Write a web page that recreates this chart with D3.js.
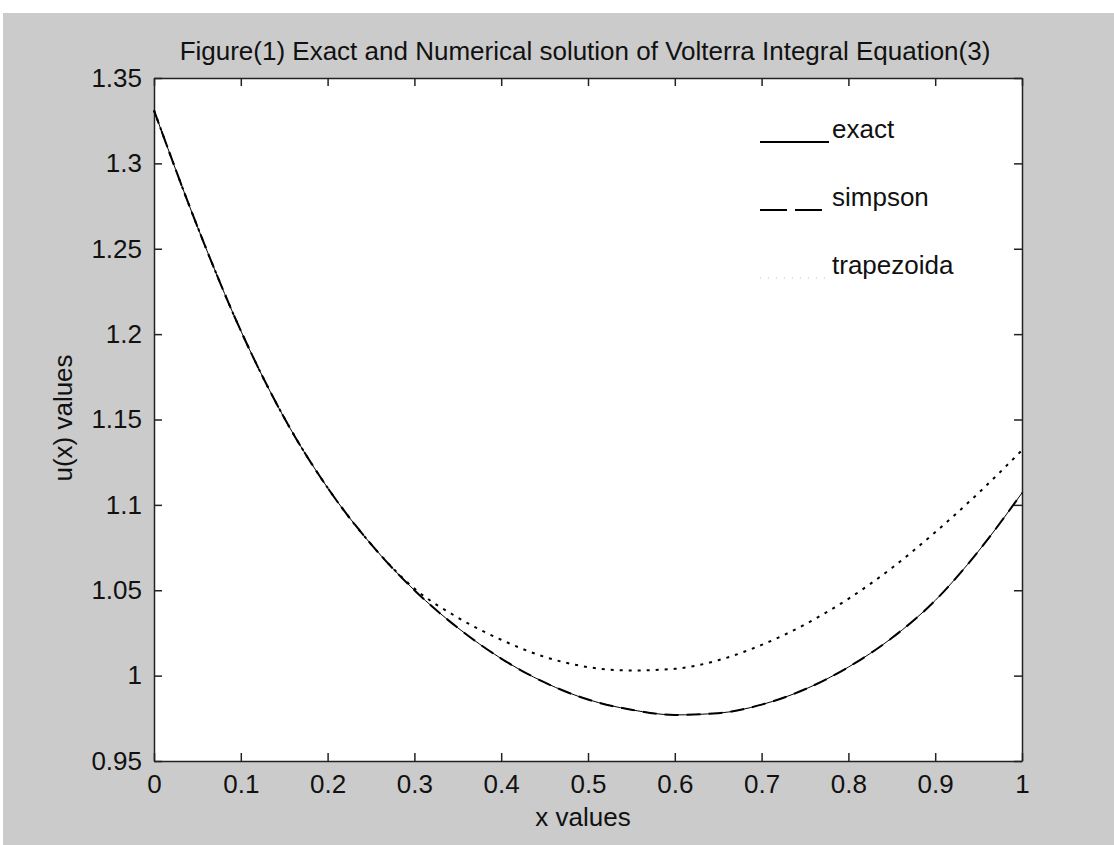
<!DOCTYPE html>
<html>
<head>
<meta charset="utf-8">
<script src="https://cdn.jsdelivr.net/npm/d3@7"></script>
<style>
  body { margin: 0; background: #fff; }
  text { font-family: "Liberation Sans", Arial, sans-serif; fill: #111; }
</style>
</head>
<body>
<div id="plot"></div>
<script>
// values
var xValues = [0, 0.05, 0.1, 0.15, 0.2, 0.25, 0.3, 0.35, 0.4, 0.45, 0.5,
               0.55, 0.6, 0.65, 0.7, 0.75, 0.8, 0.85, 0.9, 0.95, 1];
var exactValues = [1.331, 1.263, 1.202, 1.151, 1.110, 1.077, 1.050, 1.028, 1.010, 0.996, 0.986,
                   0.980, 0.977, 0.978, 0.983, 0.992, 1.005, 1.022, 1.044, 1.073, 1.107];
var simpsonValues = [1.331, 1.263, 1.202, 1.151, 1.110, 1.077, 1.050, 1.028, 1.010, 0.996, 0.986,
                     0.980, 0.977, 0.978, 0.983, 0.992, 1.005, 1.022, 1.044, 1.073, 1.107];
var trapezoidalValues = [1.331, 1.263, 1.202, 1.151, 1.110, 1.077, 1.051, 1.034, 1.021, 1.011, 1.005,
                         1.003, 1.004, 1.009, 1.018, 1.030, 1.045, 1.063, 1.084, 1.107, 1.132];
var xTicks = [0, 0.1, 0.2, 0.3, 0.4, 0.5, 0.6, 0.7, 0.8, 0.9, 1];
var yTicks = [0.95, 1, 1.05, 1.1, 1.15, 1.2, 1.25, 1.3, 1.35];
var legendNames = ["exact", "simpson", "trapezoida"];

var width = 1114;
var height = 845;
var plot = { left: 154, right: 1022, top: 78, bottom: 761 };
var tickLen = 8;
var fontSize = "26px";

var svg = d3.select("#plot").append("svg")
    .attr("width", width)
    .attr("height", height);

// figure background
svg.append("rect")
    .attr("x", 3).attr("y", 13)
    .attr("width", width - 3).attr("height", height - 13)
    .attr("fill", "#cbcbcb");

svg.append("rect")
    .attr("x", plot.left).attr("y", plot.top)
    .attr("width", plot.right - plot.left)
    .attr("height", plot.bottom - plot.top)
    .attr("fill", "#fff");

var x = d3.scaleLinear().domain([0, 1]).range([plot.left, plot.right]);
var y = d3.scaleLinear().domain([0.95, 1.35]).range([plot.bottom, plot.top]);

function fmt(d) {
    return d3.format("")(+d.toFixed(2));
}

// axes, matlab style: ticks point inwards on all four sides
var axisStyle = function(g) {
    g.select(".domain").attr("stroke", "#222").attr("stroke-width", 1.5);
    g.selectAll(".tick line").attr("stroke", "#222").attr("stroke-width", 1.5);
    g.selectAll(".tick text").style("font-size", fontSize);
};

svg.append("g")
    .attr("transform", "translate(0," + plot.bottom + ")")
    .call(d3.axisBottom(x).tickValues(xTicks).tickFormat(fmt)
        .tickSizeInner(-tickLen).tickSizeOuter(0).tickPadding(tickLen + 6))
    .call(axisStyle);

svg.append("g")
    .attr("transform", "translate(0," + plot.top + ")")
    .call(d3.axisTop(x).tickValues(xTicks).tickFormat("")
        .tickSizeInner(-tickLen).tickSizeOuter(0))
    .call(axisStyle);

svg.append("g")
    .attr("transform", "translate(" + plot.left + ",0)")
    .call(d3.axisLeft(y).tickValues(yTicks).tickFormat(fmt)
        .tickSizeInner(-tickLen).tickSizeOuter(0).tickPadding(tickLen + 4))
    .call(axisStyle);

svg.append("g")
    .attr("transform", "translate(" + plot.right + ",0)")
    .call(d3.axisRight(y).tickValues(yTicks).tickFormat("")
        .tickSizeInner(-tickLen).tickSizeOuter(0))
    .call(axisStyle);

// curves
var series = [
    { name: "exact", values: exactValues, dash: null, w: 1 },
    { name: "simpson", values: simpsonValues, dash: "14,8", w: 2 },
    { name: "trapezoida", values: trapezoidalValues, dash: "3,6", w: 2 }
];

var line = d3.line()
    .x(function(d) { return x(d[0]); })
    .y(function(d) { return y(d[1]); })
    .curve(d3.curveMonotoneX);

series.forEach(function(s) {
    svg.append("path")
        .datum(xValues.map(function(xi, i) { return [xi, s.values[i]]; }))
        .attr("fill", "none")
        .attr("stroke", "#000")
        .attr("stroke-width", s.w)
        .attr("stroke-dasharray", s.dash)
        .attr("d", line);
});

// legend
var legend = svg.append("g").attr("transform", "translate(760,142)");
series.forEach(function(s, i) {
    var row = legend.append("g").attr("transform", "translate(0," + (i * 68) + ")");
    row.append("line")
        .attr("x1", 0).attr("x2", i === 1 ? 63 : 69)
        .attr("y1", 0).attr("y2", 0)
        .attr("stroke", "#000")
        .attr("stroke-width", i === 2 ? 1 : 2)
        .attr("stroke-dasharray", i === 1 ? "27,8" : (i === 2 ? "1,7" : null))
        .attr("stroke-opacity", i === 2 ? 0.25 : 1);
    row.append("text")
        .attr("x", 72).attr("y", -4)
        .style("font-size", fontSize)
        .text(legendNames[i]);
});

// title and labels
svg.append("text")
    .attr("x", 585).attr("y", 60)
    .attr("text-anchor", "middle")
    .style("font-size", fontSize)
    .text("Figure(1) Exact and Numerical solution of Volterra Integral Equation(3)");

svg.append("text")
    .attr("x", 583).attr("y", 826)
    .attr("text-anchor", "middle")
    .style("font-size", fontSize)
    .text("x values");

svg.append("text")
    .attr("transform", "translate(72,418) rotate(-90)")
    .attr("text-anchor", "middle")
    .style("font-size", fontSize)
    .text("u(x) values");
</script>
</body>
</html>
